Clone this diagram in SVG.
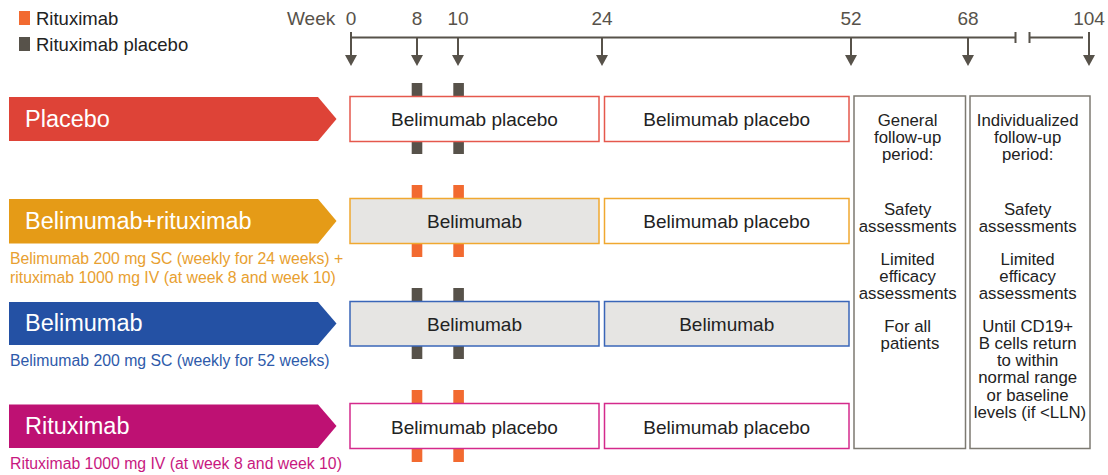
<svg xmlns="http://www.w3.org/2000/svg" width="1108" height="475" viewBox="0 0 1108 475">
<style>
text{font-family:"Liberation Sans",Arial,sans-serif}
.leg{font-size:18.5px;fill:#222}
.wk{font-size:19px;fill:#57524a}
.tl{stroke:#57524a;stroke-width:2;fill:none}
.ah{fill:#57524a}
.arm{font-size:23.5px;fill:#fff}
.sub{font-size:15.8px}
.box{stroke-width:1.5}
.bt{font-size:19px;fill:#222;text-anchor:middle}
.fu{fill:#fff;stroke:#7d7a72;stroke-width:1.5}
.ft{font-size:16.8px;fill:#222;text-anchor:middle}
.rx{fill:#f26a30}
.rp{fill:#57524a}
</style>
<defs>
<path id="ahead" d="M-6,0 L6,0 L0,11 Z"/>
</defs>

<g id="legend">
<rect x="19" y="11" width="11" height="14" class="rx"/>
<text x="36" y="25" class="leg">Rituximab</text>
<rect x="19" y="37" width="11" height="14" class="rp"/>
<text x="36" y="51" class="leg">Rituximab placebo</text>
</g>

<g id="timeline">
<text x="287" y="25" class="wk">Week</text>
<g text-anchor="middle" class="wk">
<text x="351" y="25">0</text>
<text x="417" y="25">8</text>
<text x="458" y="25">10</text>
<text x="602" y="25">24</text>
<text x="851" y="25">52</text>
<text x="968" y="25">68</text>
<text x="1089" y="25">104</text>
</g>
<path class="tl" d="M351,37.5 H1015.5 M1015.5,32 V43 M1029.5,32 V43 M1029.5,37.5 H1083"/>
<path class="tl" d="M351,32 V56 M417,37 V56 M458,37 V56 M602,37 V56 M851,37 V56 M968,37 V56 M1089,32 V56"/>
<use href="#ahead" x="351" y="55" class="ah"/>
<use href="#ahead" x="417" y="55" class="ah"/>
<use href="#ahead" x="458" y="55" class="ah"/>
<use href="#ahead" x="602" y="55" class="ah"/>
<use href="#ahead" x="851" y="55" class="ah"/>
<use href="#ahead" x="968" y="55" class="ah"/>
<use href="#ahead" x="1089" y="55" class="ah"/>
</g>

<g id="dose-bars">
<rect x="411.7" y="83" width="10.6" height="71" class="rp"/>
<rect x="453.3" y="83" width="10.6" height="71" class="rp"/>
<rect x="411.7" y="185" width="10.6" height="72" class="rx"/>
<rect x="453.3" y="185" width="10.6" height="72" class="rx"/>
<rect x="411.7" y="288" width="10.6" height="71" class="rp"/>
<rect x="453.3" y="288" width="10.6" height="71" class="rp"/>
<rect x="411.7" y="390" width="10.6" height="72" class="rx"/>
<rect x="453.3" y="390" width="10.6" height="72" class="rx"/>
</g>

<g id="arm-placebo">
<path d="M9,97 H318 L336.5,119 L318,141 H9 Z" fill="#de4337"/>
<text x="25" y="127" class="arm">Placebo</text>
<rect x="350" y="96.5" width="249" height="45" fill="#fff" stroke="#e5584d" class="box"/>
<text x="474.5" y="126" class="bt">Belimumab placebo</text>
<rect x="604.5" y="96.5" width="244.5" height="45" fill="#fff" stroke="#e5584d" class="box"/>
<text x="726.7" y="126" class="bt">Belimumab placebo</text>
</g>

<g id="arm-belimumab-rituximab">
<path d="M9,199 H318 L336.5,221 L318,243.5 H9 Z" fill="#e59b17"/>
<text x="25" y="228.5" class="arm">Belimumab+rituximab</text>
<text x="10" y="264" class="sub" fill="#e8a030">Belimumab 200 mg SC (weekly for 24 weeks) +</text>
<text x="10" y="283" class="sub" fill="#e8a030">rituximab 1000 mg IV (at week 8 and week 10)</text>
<rect x="350" y="198.5" width="249" height="45" fill="#e6e5e3" stroke="#f0a830" class="box"/>
<text x="474.5" y="228" class="bt">Belimumab</text>
<rect x="604.5" y="198.5" width="244.5" height="45" fill="#fff" stroke="#f0a830" class="box"/>
<text x="726.7" y="228" class="bt">Belimumab placebo</text>
</g>

<g id="arm-belimumab">
<path d="M9,302 H318 L336.5,323.5 L318,345 H9 Z" fill="#2451a4"/>
<text x="25" y="331" class="arm">Belimumab</text>
<text x="10" y="366" class="sub" fill="#2e5aaa">Belimumab 200 mg SC (weekly for 52 weeks)</text>
<rect x="350" y="301.5" width="249" height="44.5" fill="#e6e5e3" stroke="#3a66b8" class="box"/>
<text x="474.5" y="331" class="bt">Belimumab</text>
<rect x="604.5" y="301.5" width="244.5" height="44.5" fill="#e6e5e3" stroke="#3a66b8" class="box"/>
<text x="726.7" y="331" class="bt">Belimumab</text>
</g>

<g id="arm-rituximab">
<path d="M9,404.5 H318 L336.5,426 L318,448 H9 Z" fill="#be1173"/>
<text x="25" y="434" class="arm">Rituximab</text>
<text x="10" y="468.5" class="sub" fill="#c8187f">Rituximab 1000 mg IV (at week 8 and week 10)</text>
<rect x="350" y="403.5" width="249" height="45" fill="#fff" stroke="#d42a8c" class="box"/>
<text x="474.5" y="433.5" class="bt">Belimumab placebo</text>
<rect x="604.5" y="403.5" width="244.5" height="45" fill="#fff" stroke="#d42a8c" class="box"/>
<text x="726.7" y="433.5" class="bt">Belimumab placebo</text>
</g>

<g id="general-follow-up">
<rect x="854" y="96" width="111.5" height="352.5" class="fu"/>
<text class="ft">
<tspan x="910" y="125.5">General</tspan>
<tspan x="910" y="142.7">follow-up</tspan>
<tspan x="910" y="160">period:</tspan>
<tspan x="910" y="215">Safety</tspan>
<tspan x="910" y="232">assessments</tspan>
<tspan x="910" y="265">Limited</tspan>
<tspan x="910" y="282">efficacy</tspan>
<tspan x="910" y="299">assessments</tspan>
<tspan x="910" y="332.3">For all</tspan>
<tspan x="910" y="349.3">patients</tspan>
</text>
</g>

<g id="individualized-follow-up">
<rect x="970" y="96" width="120" height="352.5" class="fu"/>
<text class="ft">
<tspan x="1030" y="125.5">Individualized</tspan>
<tspan x="1030" y="142.7">follow-up</tspan>
<tspan x="1030" y="160">period:</tspan>
<tspan x="1030" y="215">Safety</tspan>
<tspan x="1030" y="232">assessments</tspan>
<tspan x="1030" y="265">Limited</tspan>
<tspan x="1030" y="282">efficacy</tspan>
<tspan x="1030" y="299">assessments</tspan>
<tspan x="1030" y="332.3">Until CD19+</tspan>
<tspan x="1030" y="349.3">B cells return</tspan>
<tspan x="1030" y="366.3">to within</tspan>
<tspan x="1030" y="383.3">normal range</tspan>
<tspan x="1030" y="400.5">or baseline</tspan>
<tspan x="1030" y="417.7">levels (if &lt;LLN)</tspan>
</text>
</g>
</svg>
